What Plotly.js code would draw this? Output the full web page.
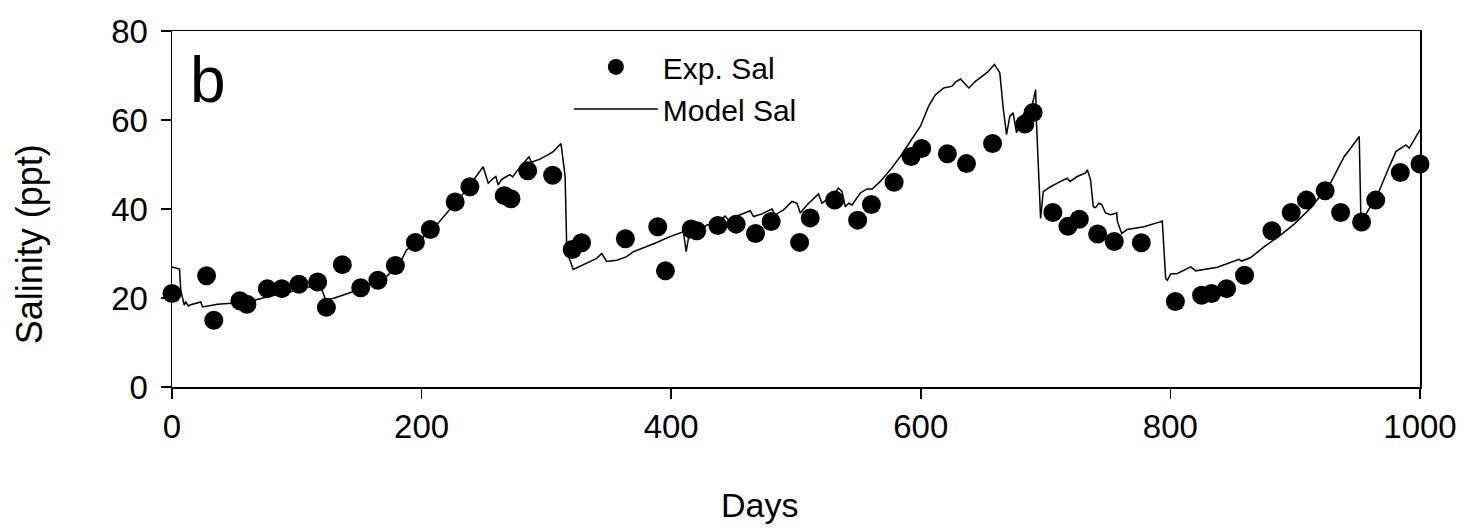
<!DOCTYPE html>
<html>
<head>
<meta charset="utf-8">
<script src="https://cdn.plot.ly/plotly-3.0.1.min.js"></script>
<style>html,body{margin:0;padding:0;background:#fff;}#chart{width:1466px;height:529px;}</style>
</head>
<body>
<div id="chart"></div>
<script>
// Experimental salinity points
const expDays = [0, 27.7, 33.5, 54.4, 60, 76.4, 88, 101.7, 116.7, 123.7, 136.5, 151.2, 165, 179, 195, 207, 226.9, 238.7, 266.2, 271.6, 285, 305, 320.7, 328.2, 363.3, 389.2, 395.4, 416, 420.5, 437.4, 452, 467.6, 480.1, 502.9, 511.4, 531, 549.4, 560.4, 578.6, 592.2, 600.7, 621.3, 636.6, 657.5, 683.4, 690, 705.8, 717.9, 727, 741.7, 755, 776.7, 804, 825, 833, 845, 859.4, 881.3, 896.8, 909, 924, 936.4, 953.2, 964.5, 984.2, 1000];
const expSal = [21, 25, 15, 19.4, 18.6, 22.1, 22.1, 23.1, 23.6, 17.9, 27.5, 22.3, 24, 27.3, 32.5, 35.4, 41.6, 45, 43, 42.3, 48.6, 47.6, 30.9, 32.4, 33.3, 36, 26.1, 35.5, 35.1, 36.3, 36.6, 34.5, 37.2, 32.5, 38, 42, 37.5, 41, 46, 51.8, 53.6, 52.4, 50.2, 54.7, 59.1, 61.7, 39.2, 36.1, 37.7, 34.4, 32.7, 32.4, 19.2, 20.6, 21, 22.1, 25.1, 35.1, 39.2, 42, 44.1, 39.2, 37.1, 42, 48.2, 50.1];

// Model salinity line
const modelDays = [0, 4.4, 6, 7, 9.8, 11, 13.2, 15, 23, 24.5, 36.5, 50, 66, 76.6, 95.3, 108.7, 119.4, 122.9, 129, 145, 150, 171.8, 182.5, 187.9, 198.6, 212, 222.6, 236, 249.3, 253.4, 257.4, 259.5, 261.4, 264, 268, 270.8, 273, 276, 281.5, 286, 288, 294.8, 301.5, 305.5, 311.7, 315, 316.2, 318.3, 321.5, 329.6, 340.3, 344.3, 348.3, 356.4, 364.4, 369.7, 380.4, 387, 399, 409.8, 412, 413.8, 428.6, 436.6, 443.2, 445.9, 455.3, 463.3, 466, 472.7, 480.7, 483.4, 490, 496.8, 500.8, 503.4, 508.8, 515.4, 518, 520.8, 524.8, 530, 534, 536.9, 539.5, 542.2, 544.9, 547.5, 551.5, 556.9, 561, 567.6, 575.6, 583.6, 591.7, 599.7, 606.3, 611.7, 618.4, 625.1, 627.8, 631.8, 638.5, 643.8, 653.2, 659, 663.3, 666, 668.7, 671.3, 674, 676.7, 679.9, 685.3, 689.3, 692, 692.7, 694.6, 696, 698.1, 704, 712, 717.4, 719.5, 725.4, 732, 733.4, 736, 738.2, 740, 742.7, 745, 748, 752, 757, 757.5, 761, 765.5, 778.8, 791.7, 793.5, 796.2, 797.6, 800.2, 805.6, 816.3, 820.3, 837.7, 855, 857, 864.4, 875, 888.5, 899.2, 912.6, 928.6, 939.3, 944.6, 951.3, 952.7, 958, 966, 974, 980.7, 988.7, 991.4, 1000];
const modelSal = [27.0, 26.7, 26.5, 21.8, 18.4, 19.1, 18.2, 18.5, 19.1, 18.0, 18.6, 18.9, 19.5, 20.3, 21.4, 22.5, 22.5, 19.7, 19.9, 21.4, 21.9, 24.8, 27.8, 30.8, 33.0, 36.4, 39.8, 44.3, 49.5, 45.8, 46.9, 47.3, 45.4, 46.6, 47.3, 47.7, 47.2, 48.4, 50.3, 51.7, 50.5, 51.2, 52.2, 52.9, 54.7, 47.3, 32.3, 28.9, 26.4, 27.4, 28.9, 30.0, 28.2, 28.5, 29.3, 30.4, 31.5, 32.3, 33.8, 34.9, 30.4, 33.4, 36.4, 36.8, 38.4, 37.5, 38.7, 39.6, 38.3, 38.9, 40.0, 38.7, 39.8, 41.7, 41.3, 39.1, 40.9, 42.8, 43.4, 41.3, 42.2, 43.2, 44.7, 43.9, 40.5, 41.3, 40.9, 42.0, 43.6, 44.5, 44.5, 46.2, 48.8, 51.8, 55.2, 58.6, 63.1, 65.7, 67.2, 67.6, 68.5, 69.2, 67.2, 68.7, 70.7, 72.5, 70.6, 62.7, 56.7, 60.8, 61.6, 57.1, 60.1, 62.7, 63.4, 66.8, 59.3, 47.3, 37.9, 43.9, 45.0, 46.2, 46.9, 46.2, 47.3, 48.1, 48.8, 46.6, 40.5, 40.3, 41.3, 41.0, 39.1, 38.7, 39.1, 37.2, 34.5, 35.4, 36.0, 37.1, 37.3, 24.4, 24.0, 25.4, 25.5, 27.0, 26.1, 26.9, 28.7, 28.3, 29.1, 31.5, 34.2, 36.6, 40.3, 46.0, 51.8, 53.7, 56.3, 37.0, 39.4, 43.2, 48.6, 52.9, 54.4, 53.7, 57.8];

const xTicks = [0, 200, 400, 600, 800, 1000];
const yTicks = [0, 20, 40, 60, 80];
const xTitle = 'Days';
const yTitle = 'Salinity (ppt)';
const panelLabel = 'b';

const FONT = 'Arial, "Liberation Sans", sans-serif';

const traces = [
  {
    x: modelDays, y: modelSal, type: 'scatter', mode: 'lines', name: 'Model Sal',
    line: {color: '#000', width: 1.5}, legendrank: 2, legendgroup: 'b'
  },
  {
    x: expDays, y: expSal, type: 'scatter', mode: 'markers', name: 'Exp. Sal',
    marker: {color: '#000', size: 19, line: {width: 0}}, cliponaxis: false,
    legendrank: 1, legendgroup: 'a'
  }
];

const axisCommon = {
  showgrid: false, zeroline: false, showline: true, linecolor: '#000', linewidth: 1.5,
  mirror: true, ticks: 'outside', ticklen: 10, tickwidth: 1.5, tickcolor: '#000',
  tickfont: {family: FONT, size: 33, color: '#000'}
};

const layout = {
  width: 1466, height: 529,
  margin: {l: 172, r: 46, t: 31, b: 142},
  paper_bgcolor: '#fff', plot_bgcolor: '#fff',
  font: {family: FONT, color: '#000'},
  showlegend: true,
  legend: {
    x: 0.318, y: 0.972, xanchor: 'left', yanchor: 'top',
    font: {family: FONT, size: 30, color: '#000'},
    itemwidth: 84,
    bgcolor: 'rgba(0,0,0,0)', traceorder: 'grouped', tracegroupgap: 0
  },
  xaxis: Object.assign({}, axisCommon, {
    range: [0, 1000], tickvals: xTicks, ticktext: xTicks.map(String)
  }),
  yaxis: Object.assign({}, axisCommon, {
    range: [0, 80], tickvals: yTicks, ticktext: yTicks.map(String),
    ticklabelstandoff: 6
  }),
  annotations: [
    {
      text: panelLabel, xref: 'paper', yref: 'paper', x: 0.013, y: 0.97,
      xanchor: 'left', yanchor: 'top', showarrow: false,
      font: {family: FONT, size: 64, color: '#000'}
    },
    {
      text: xTitle, xref: 'paper', yref: 'paper', x: 0.471, y: -0.332,
      xanchor: 'center', yanchor: 'middle', showarrow: false,
      font: {family: FONT, size: 34, color: '#000'}
    },
    {
      text: yTitle, xref: 'paper', yref: 'paper', x: -0.114, y: 0.40,
      xanchor: 'center', yanchor: 'middle', showarrow: false, textangle: -90,
      font: {family: FONT, size: 36, color: '#000'}
    }
  ]
};

Plotly.newPlot('chart', traces, layout, {staticPlot: true, displayModeBar: false});
</script>
</body>
</html>
